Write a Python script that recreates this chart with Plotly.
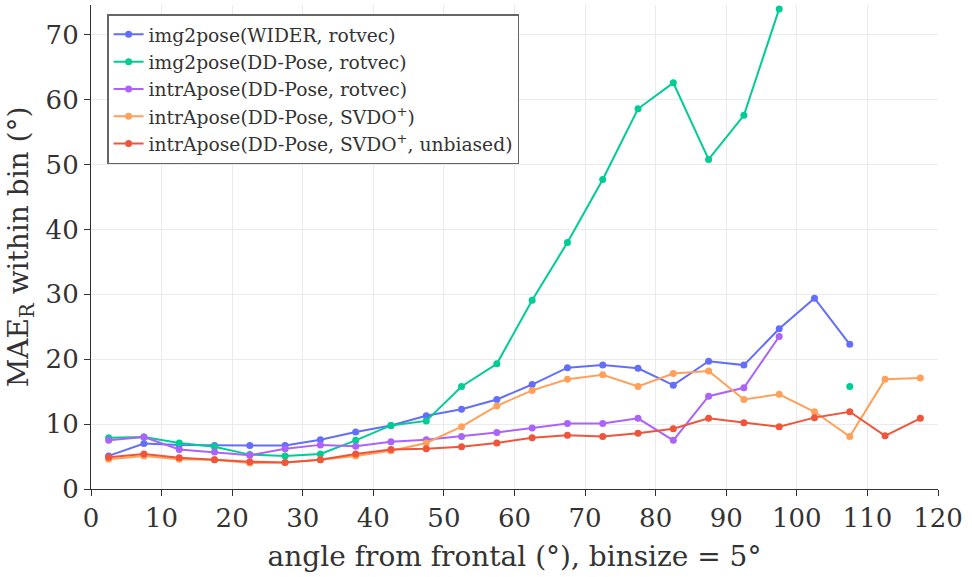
import plotly.graph_objects as go

# bin centres (degrees from frontal, binsize 5)
bins = [2.5, 7.5, 12.5, 17.5, 22.5, 27.5, 32.5, 37.5, 42.5, 47.5, 52.5, 57.5,
        62.5, 67.5, 72.5, 77.5, 82.5, 87.5, 92.5, 97.5, 102.5, 107.5, 112.5, 117.5]

img2pose_wider_rotvec = [5.1, 7.0, 6.8, 6.7, 6.7, 6.7, 7.6, 8.8, 9.8, 11.3, 12.3, 13.8,
                         16.1, 18.7, 19.1, 18.6, 16.0, 19.7, 19.1, 24.7, 29.4, 22.3, None, None]
img2pose_ddpose_rotvec = [7.9, 8.0, 7.1, 6.5, 5.3, 5.1, 5.4, 7.5, 9.8, 10.5, 15.8, 19.3,
                          29.1, 38.0, 47.7, 58.6, 62.6, 50.8, 57.6, 74.0, None, 15.8, None, None]
intrapose_rotvec = [7.5, 8.0, 6.1, 5.7, 5.2, 6.2, 6.8, 6.6, 7.3, 7.6, 8.1, 8.7,
                    9.4, 10.1, 10.1, 10.9, 7.5, 14.3, 15.6, 23.5, None, None, None, None]
intrapose_svdo = [4.6, 5.1, 4.6, 4.5, 4.0, 4.1, 4.5, 5.1, 5.9, 7.1, 9.6, 12.8,
                  15.2, 16.9, 17.6, 15.8, 17.8, 18.2, 13.8, 14.6, 11.9, 8.1, 16.9, 17.1]
intrapose_svdo_unbiased = [4.9, 5.4, 4.8, 4.5, 4.2, 4.1, 4.5, 5.4, 6.1, 6.2, 6.5, 7.1,
                           7.9, 8.3, 8.1, 8.6, 9.3, 10.9, 10.2, 9.6, 11.0, 11.9, 8.2, 10.9]

series = [
    ("img2pose(WIDER, rotvec)", img2pose_wider_rotvec, "#636EFA"),
    ("img2pose(DD-Pose, rotvec)", img2pose_ddpose_rotvec, "#00CC96"),
    ("intrApose(DD-Pose, rotvec)", intrapose_rotvec, "#AB63FA"),
    ("intrApose(DD-Pose, SVDO<sup>+</sup>)", intrapose_svdo, "#FFA15A"),
    ("intrApose(DD-Pose, SVDO<sup>+</sup>, unbiased)", intrapose_svdo_unbiased, "#EF553B"),
]

fig = go.Figure()
for name, vals, color in series:
    fig.add_trace(go.Scatter(
        x=bins, y=vals, name=name, mode="lines+markers",
        line=dict(color=color, width=2),
        marker=dict(color=color, size=7),
        connectgaps=False,
    ))

axis_common = dict(
    showline=True, linecolor="#333", linewidth=1.2,
    ticks="outside", ticklen=6, tickcolor="#333",
    showgrid=True, gridcolor="#ebebeb", gridwidth=1,
    zeroline=False, mirror=False,
    tickfont=dict(size=26, color="#333"),
    title_font=dict(size=28, color="#333"),
)

fig.update_layout(
    width=972, height=577,
    margin=dict(l=91, r=34, t=5, b=88),
    paper_bgcolor="white", plot_bgcolor="white",
    font=dict(family="DejaVu Serif", color="#333"),
    xaxis=dict(range=[0, 120], dtick=10,
               title=dict(text="angle from frontal (°), binsize = 5°", standoff=14),
               **axis_common),
    yaxis=dict(range=[0, 74.6], dtick=10,
               title=dict(text="MAE<sub>R</sub> within bin (°)", standoff=8),
               **axis_common),
    legend=dict(x=0.019, y=0.981, xanchor="left", yanchor="top",
                bgcolor="white", bordercolor="#666", borderwidth=1.5,
                font=dict(size=18.7, color="#333")),
    showlegend=True,
)

fig.write_html("out.html")
